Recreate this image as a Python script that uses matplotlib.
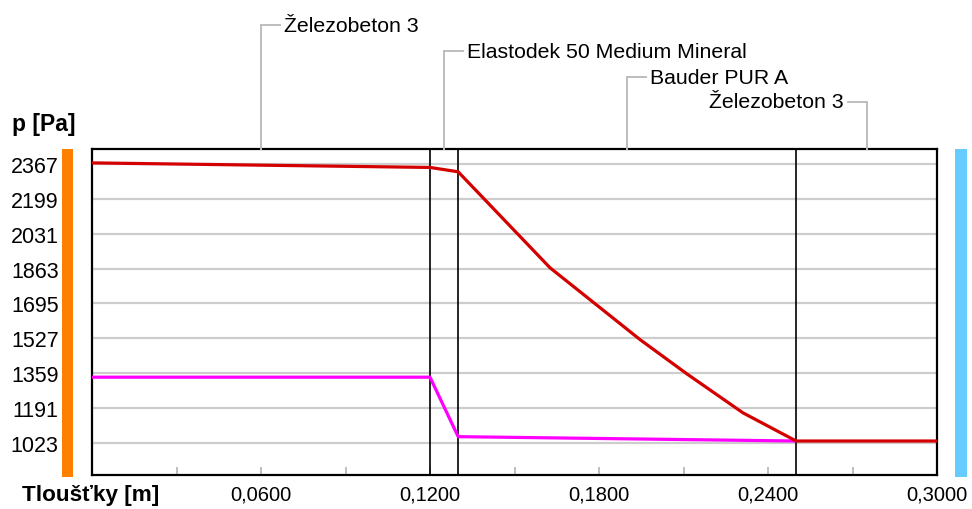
import matplotlib
matplotlib.use("Agg")
import matplotlib.pyplot as plt
from matplotlib.lines import Line2D
from matplotlib.patches import Rectangle
from matplotlib.transforms import blended_transform_factory, offset_copy
from matplotlib.ticker import FixedLocator, FuncFormatter

W, H, DPI = 972, 510, 100

# Construction layers (thickness coordinate in m)
layer_names = ["Železobeton 3", "Elastodek 50 Medium Mineral", "Bauder PUR A", "Železobeton 3"]
layer_bounds = [0.0, 0.12, 0.13, 0.25, 0.30]

# Saturated water vapour pressure [Pa]
p_sat_x = [0.0, 0.12, 0.13, 0.1626, 0.1946, 0.2112, 0.2311, 0.25, 0.30]
p_sat_val = [2373, 2351, 2330, 1867, 1520, 1355, 1167, 1031, 1031]

# Partial water vapour pressure [Pa]
p_part_x = [0.0, 0.12, 0.13, 0.25]
p_part_val = [1339, 1339, 1052, 1031]

y_ticks = [1023, 1191, 1359, 1527, 1695, 1863, 2031, 2199, 2367]
x_ticks = [0.03, 0.06, 0.09, 0.12, 0.15, 0.18, 0.21, 0.24, 0.27, 0.30]
x_labeled = [0.06, 0.12, 0.18, 0.24, 0.30]

plt.rcParams["font.family"] = ["Liberation Sans", "DejaVu Sans"]

fig = plt.figure(figsize=(W / DPI, H / DPI), dpi=DPI)
fig.patch.set_facecolor("white")

# plot box in pixels
ax_l, ax_r, ax_t, ax_b = 92, 937, 150, 476
ax = fig.add_axes([ax_l / W, 1 - ax_b / H, (ax_r - ax_l) / W, (ax_b - ax_t) / H])
ax.set_xlim(0.0, 0.30)
ax.set_ylim(867, 2440)

for s in ax.spines.values():
    s.set_linewidth(1.6)
    s.set_color("black")

# horizontal grid
ax.set_yticks(y_ticks)
ax.set_yticklabels([str(v) for v in y_ticks])
ax.yaxis.grid(True, color="#cdcdcd", linewidth=1.6, zorder=0)
ax.set_axisbelow(True)
ax.tick_params(axis="y", length=0, pad=24, labelsize=15.5)


def x_fmt(v, pos):
    if any(abs(v - t) < 1e-9 for t in x_labeled):
        return ("%.4f" % v).replace(".", ",")
    return ""


ax.xaxis.set_major_locator(FixedLocator(x_ticks))
ax.xaxis.set_major_formatter(FuncFormatter(x_fmt))
ax.tick_params(axis="x", direction="in", length=6, width=1.2, color="#b4b4b4",
               pad=7, labelsize=14.5)

# layer boundaries
for b in layer_bounds[1:-1]:
    ax.axvline(b, color="black", linewidth=1.2, zorder=2)

ax.plot(p_part_x, p_part_val, color="#ff00ff", linewidth=2.3, zorder=3, solid_capstyle="butt")
ax.plot(p_sat_x, p_sat_val, color="#d40000", linewidth=2.3, zorder=4, solid_capstyle="butt")

# interior / exterior side bars
fig.add_artist(Rectangle((62 / W, 1 - 478 / H), 11 / W, (478 - 150) / H,
                         transform=fig.transFigure, color="#ff8000", lw=0))
fig.add_artist(Rectangle((955 / W, 1 - 478 / H), 12 / W, (478 - 150) / H,
                         transform=fig.transFigure, color="#66ccff", lw=0))

# layer name labels with leader lines
trans = blended_transform_factory(ax.transData, fig.transFigure)
label_levels = [26, 52, 78, 103]
lead_col = "#bdbdbd"
ytop = 1 - ax_t / H
for i, name in enumerate(layer_names):
    xm = 0.5 * (layer_bounds[i] + layer_bounds[i + 1])
    yl = 1 - label_levels[i] / H
    side = -1 if i == len(layer_names) - 1 else 1
    fig.add_artist(Line2D([xm, xm], [ytop, yl], transform=trans, color=lead_col, lw=1.4))
    x_px = ax.transData.transform((xm, 0))[0]
    fig.add_artist(Line2D([x_px / W, (x_px + 19 * side) / W], [yl, yl],
                          transform=fig.transFigure, color=lead_col, lw=1.4))
    tr_txt = offset_copy(trans, fig=fig, x=23 * side, y=0, units="dots")
    fig.text(xm, yl, name, transform=tr_txt, ha="left" if side > 0 else "right",
             va="center", fontsize=15.3, color="black")

fig.text(12 / W, 1 - 124 / H, "p [Pa]", fontsize=16.5, fontweight="bold", ha="left", va="center")
fig.text(22 / W, 1 - 496 / H, "Tloušťky [m]", fontsize=16.2, fontweight="bold", ha="left", va="center")

fig.savefig("out.png", dpi=DPI, facecolor="white")
